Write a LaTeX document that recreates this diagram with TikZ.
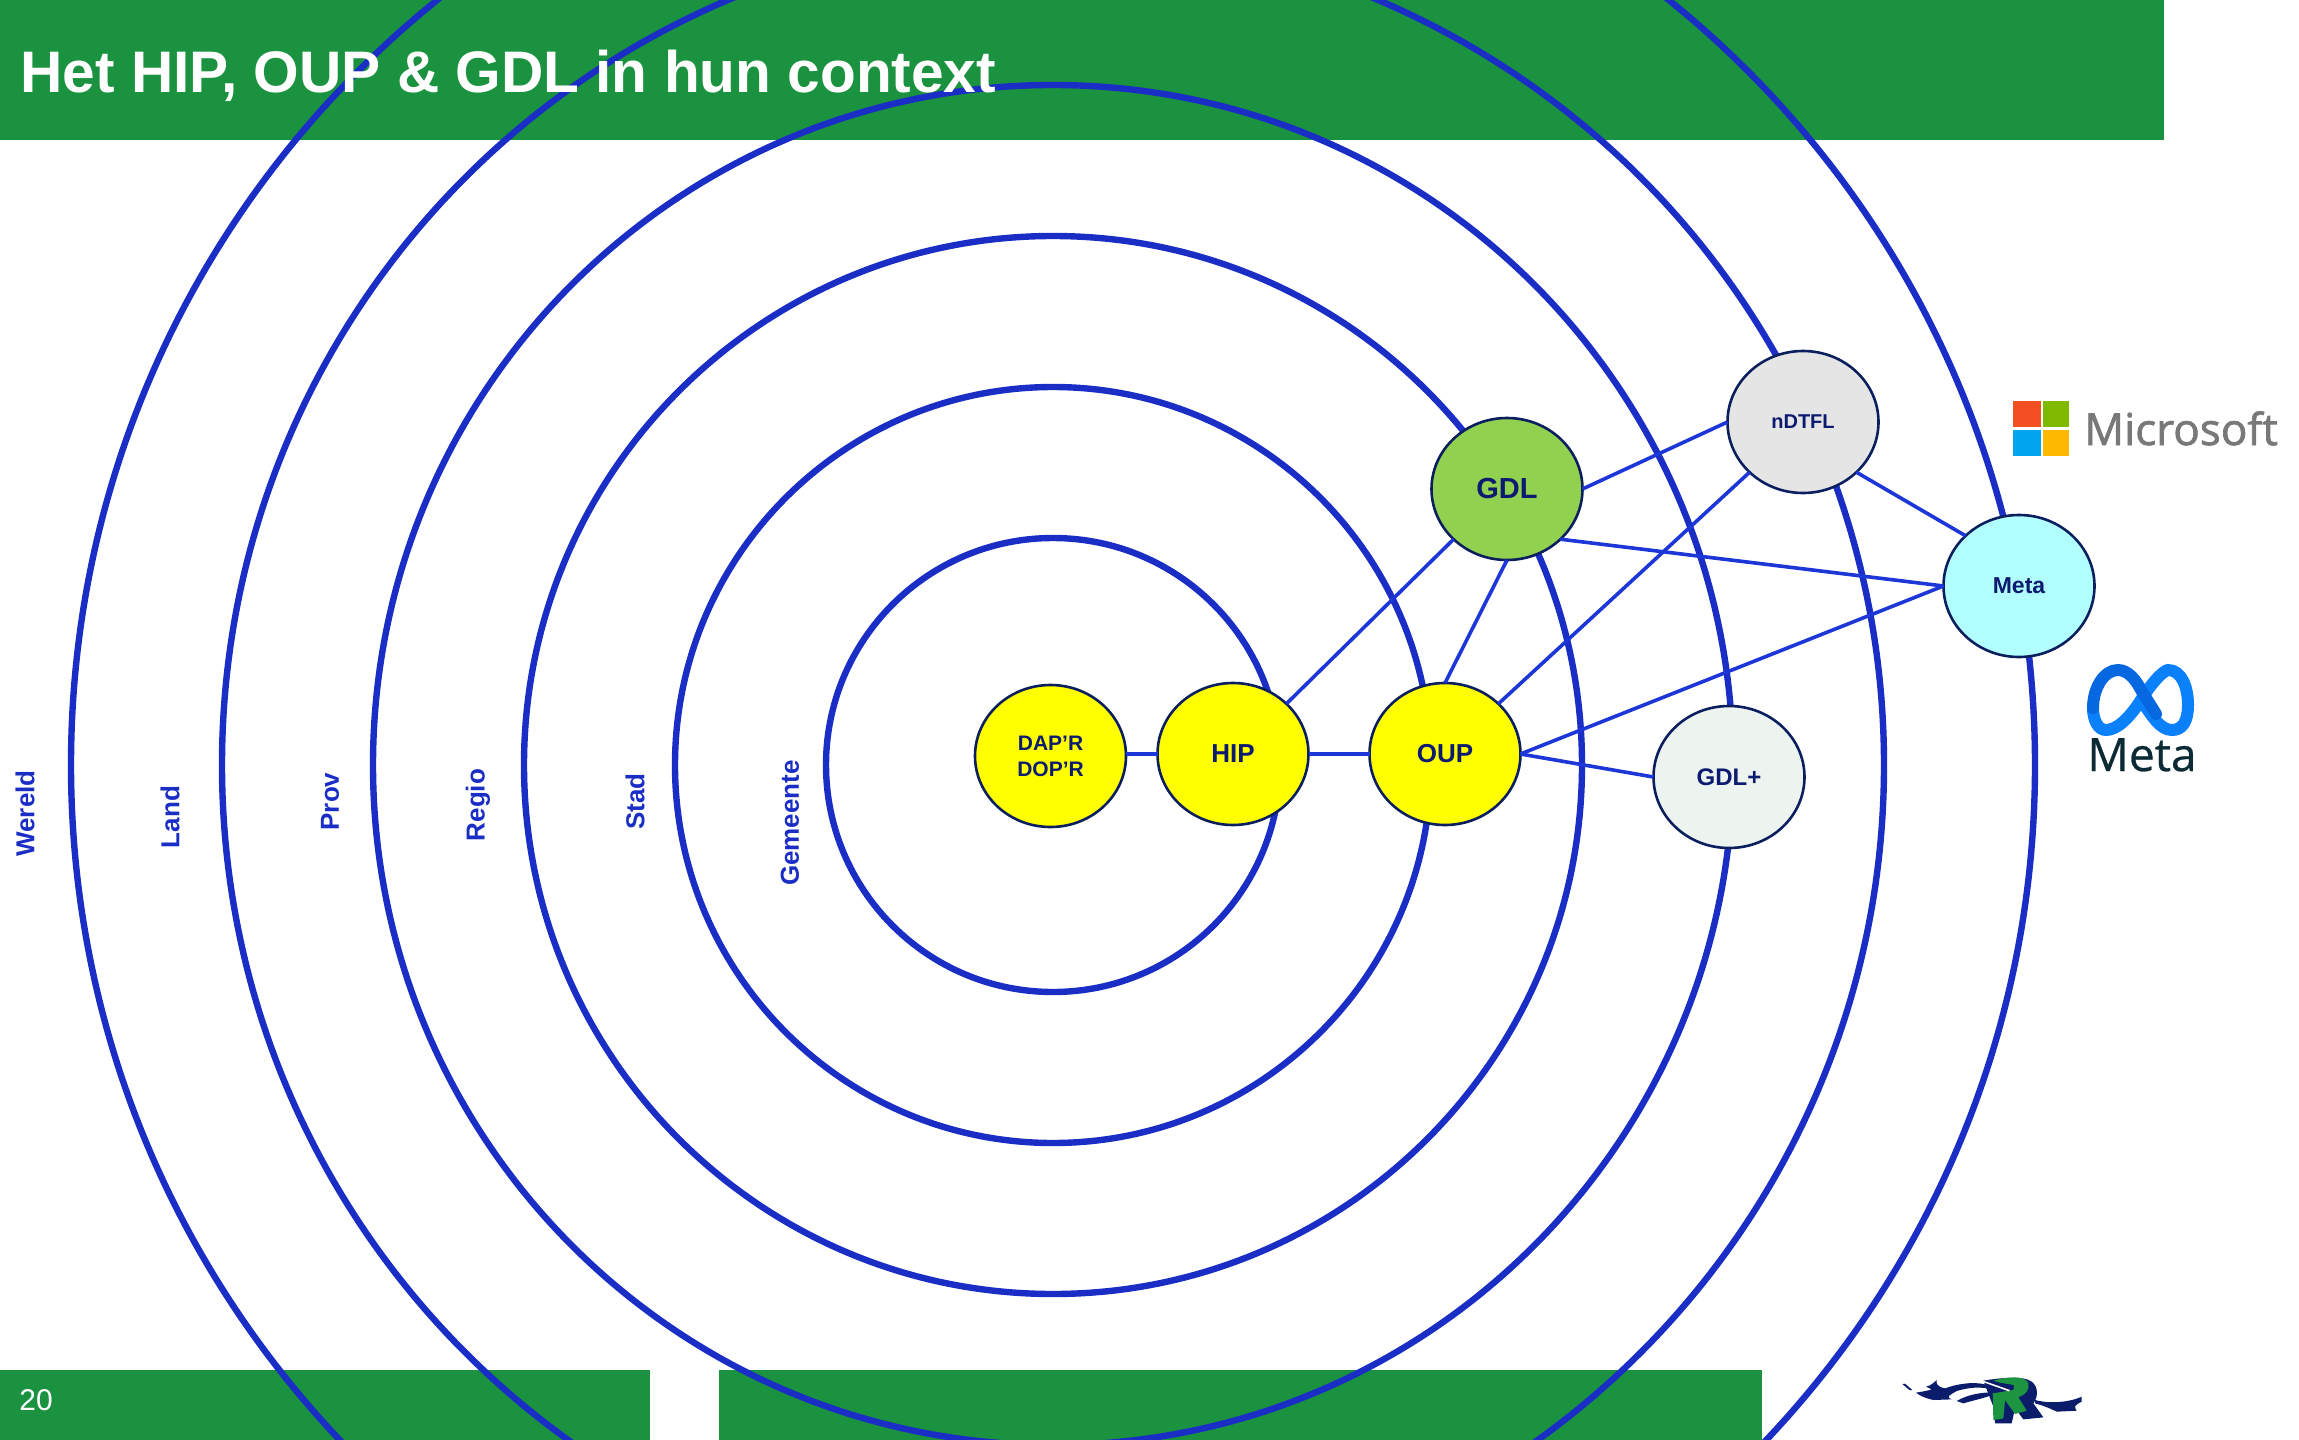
\documentclass[tikz,border=0pt]{standalone}
\usepackage{fontspec}
\setmainfont{Liberation Sans}
\newfontfamily\logofont[FakeBold=1.6]{Open Sans}
\newfontfamily\logofontb[FakeBold=0.6]{Open Sans}
\usetikzlibrary{shapes.geometric}
\definecolor{barg}{HTML}{1A923F}
\definecolor{ringb}{HTML}{1A2EC6}
\definecolor{linkb}{HTML}{1C36D8}
\definecolor{edgeb}{HTML}{0B1F5E}
\definecolor{inkb}{HTML}{0C1A70}
\definecolor{yell}{HTML}{FFFF00}
\definecolor{gdlg}{HTML}{92D050}
\definecolor{greyn}{HTML}{E5E5E5}
\definecolor{cyann}{HTML}{B2FFFF}
\definecolor{paleg}{HTML}{EDF3EF}
\definecolor{msgrey}{HTML}{787878}
\definecolor{msr}{HTML}{F25022}
\definecolor{msg}{HTML}{7FBA00}
\definecolor{msb}{HTML}{00A4EF}
\definecolor{msy}{HTML}{FFB900}
\definecolor{metad}{HTML}{0668E1}
\definecolor{metal}{HTML}{0A81FB}
\definecolor{metat}{HTML}{0B2A33}
\definecolor{logon}{HTML}{0B1C6B}
\definecolor{logog}{HTML}{1C9440}
\tikzset{
  bar/.style={fill=barg,draw=none},
  ring/.style={draw=ringb,line width=3.2pt},
  blob/.style={ellipse,draw=edgeb,line width=1.3pt,minimum width=75.5pt,minimum height=71pt,inner sep=0pt,outer sep=0pt,text=inkb,align=center,font=\bfseries},
  link/.style={draw=linkb,line width=1.8pt},
  level/.style={rotate=90,text=ringb,font=\bfseries\fontsize{13pt}{15pt}\selectfont,inner sep=0pt},
}
\begin{document}
\begin{tikzpicture}[x=0.5pt,y=-0.5pt]
\useasboundingbox (0,0) rectangle (2299,1440);
\fill[white] (0,0) rectangle (2299,1440);
\clip (0,0) rectangle (2299,1440);
% bars
\fill[bar] (0,0) rectangle (2164,140);
\fill[bar] (0,1370) rectangle (650,1440);
\fill[bar] (719,1370) rectangle (1762,1440);
% rings
\coordinate (c) at (1053,765);
\foreach \r in {227,378,529,680,831,982} \draw[ring] (c) circle[radius=\r];
% title and footer
\node[anchor=base west,inner sep=0pt,text=white,font=\bfseries\fontsize{29.3pt}{33pt}\selectfont] (title) at (20,92) {Het HIP, OUP \& GDL in hun context};
\node[anchor=base west,inner sep=0pt,text=white,font=\fontsize{15pt}{18pt}\selectfont] (page) at (19,1410) {20};
% level labels
\node[level] (l1) at (25,813.5) {Wereld};
\node[level] (l2) at (170,817) {Land};
\node[level] (l3) at (330,801.5) {Prov};
\node[level] (l4) at (478,805) {Regio};
\node[level] (l5) at (635,801.5) {Stad};
\node[level] (l6) at (790,823) {Gemeente};
% nodes
\node[blob,fill=yell,font=\bfseries\fontsize{10.5pt}{13pt}\selectfont] (dap) at (1050.5,756) {DAP’R\\DOP’R};
\node[blob,fill=yell,font=\bfseries\fontsize{13pt}{15pt}\selectfont] (hip) at (1233,754) {HIP};
\node[blob,fill=yell,font=\bfseries\fontsize{13pt}{15pt}\selectfont] (oup) at (1445,754) {OUP};
\node[blob,fill=gdlg,font=\bfseries\fontsize{14.5pt}{17pt}\selectfont] (gdl) at (1507,489) {GDL};
\node[blob,fill=greyn,font=\bfseries\fontsize{10pt}{12pt}\selectfont] (ndtfl) at (1803,422) {nDTFL};
\node[blob,fill=cyann,font=\bfseries\fontsize{11.5pt}{14pt}\selectfont] (meta) at (2019,586) {Meta};
\node[blob,fill=paleg,font=\bfseries\fontsize{12pt}{14pt}\selectfont] (gdlp) at (1729,777) {GDL+};
% connectors
\draw[link] (hip.west -| dap.east) -- (hip.west);
\draw[link] (hip.east) -- (oup.west);
\draw[link] (hip.north east) -- (gdl.south west);
\draw[link] (oup.north) -- (gdl.south);
\draw[link] (oup.north east) -- (ndtfl.south west);
\draw[link] (gdl.east) -- (ndtfl.west);
\draw[link] (gdl.south east) -- (meta.west);
\draw[link] (ndtfl.south east) -- (meta.north west);
\draw[link] (oup.east) -- (meta.west);
\draw[link] (oup.east) -- (gdlp.west);
% Microsoft logo
\fill[msr] (2013,401) rectangle (2041,427);
\fill[msg] (2043,401) rectangle (2069,427);
\fill[msb] (2013,430) rectangle (2041,456);
\fill[msy] (2043,430) rectangle (2069,456);
\node[anchor=base west,inner sep=0pt,text=msgrey,font=\logofont\fontsize{22pt}{26pt}\selectfont] (ms) at (2084,445) {Microsoft};
% Meta logo
\draw[metal,line width=6pt,line cap=round] (2141,700) .. controls (2156,676) and (2166,670) .. (2168,670) .. controls (2182,670) and (2188,688) .. (2188,705) .. controls (2188,722) and (2182,730) .. (2172,730) .. controls (2160,730) and (2152,716) .. (2141,700);
\draw[metal,line width=6pt,line cap=round] (2141,700) .. controls (2128,720) and (2116,730) .. (2106,730) .. controls (2098,730) and (2093,720) .. (2093,708);
\draw[metad,line width=6pt,line cap=round] (2093,708) .. controls (2093,688) and (2104,670) .. (2118,670) .. controls (2128,670) and (2136,680) .. (2141,690) -- (2156,714);
\node[anchor=base west,inner sep=0pt,text=metat,font=\logofontb\fontsize{23pt}{25pt}\selectfont] (metaword) at (2087,771) {Meta};
% R logo
\begin{scope}[shift={(1850,1340)},x=0.1667pt,y=-0.1667pt]
\fill[logon] (157,132) -- (165,131) -- (187,150) -- (178,150) -- cycle;
\fill[logon] (198,158) .. controls (215,155) and (235,152) .. (245,148) -- (228,140) .. controls (245,136) and (250,128) .. (260,120) .. controls (258,132) and (262,140) .. (285,145) .. controls (320,132) and (365,125) .. (400,132) .. controls (420,136) and (440,145) .. (445,155) .. controls (410,140) and (370,138) .. (320,153) .. controls (300,165) and (285,170) .. (305,178) -- (250,180) .. controls (228,175) and (210,168) .. (198,158) -- cycle;
\fill[logon] (320,183) .. controls (350,165) and (395,155) .. (435,158) .. controls (425,170) and (380,178) .. (340,190) -- cycle;
\fill[logon] (400,122) .. controls (440,115) and (520,105) .. (545,125) .. controls (565,140) and (565,170) .. (550,190) -- (580,232) -- (520,238) -- (495,205) -- (485,250) -- (435,250) -- (430,200) -- cycle;
\fill[logon] (555,180) .. controls (590,190) and (650,190) .. (695,170) -- (695,185) .. controls (675,195) and (670,200) .. (680,212) -- (620,215) .. controls (600,205) and (575,195) .. (555,190) -- cycle;
\fill[logog] (430,122) .. controls (470,110) and (525,105) .. (535,130) .. controls (540,150) and (525,165) .. (505,172) -- (530,212) -- (495,222) -- (465,180) -- (460,235) -- (430,240) -- (428,160) -- (490,150) -- (492,135) -- (450,128) -- cycle;
\fill[white] (400,122) -- (480,150) -- (476,154) -- (398,126) -- cycle;
\end{scope}
\end{tikzpicture}
\end{document}
